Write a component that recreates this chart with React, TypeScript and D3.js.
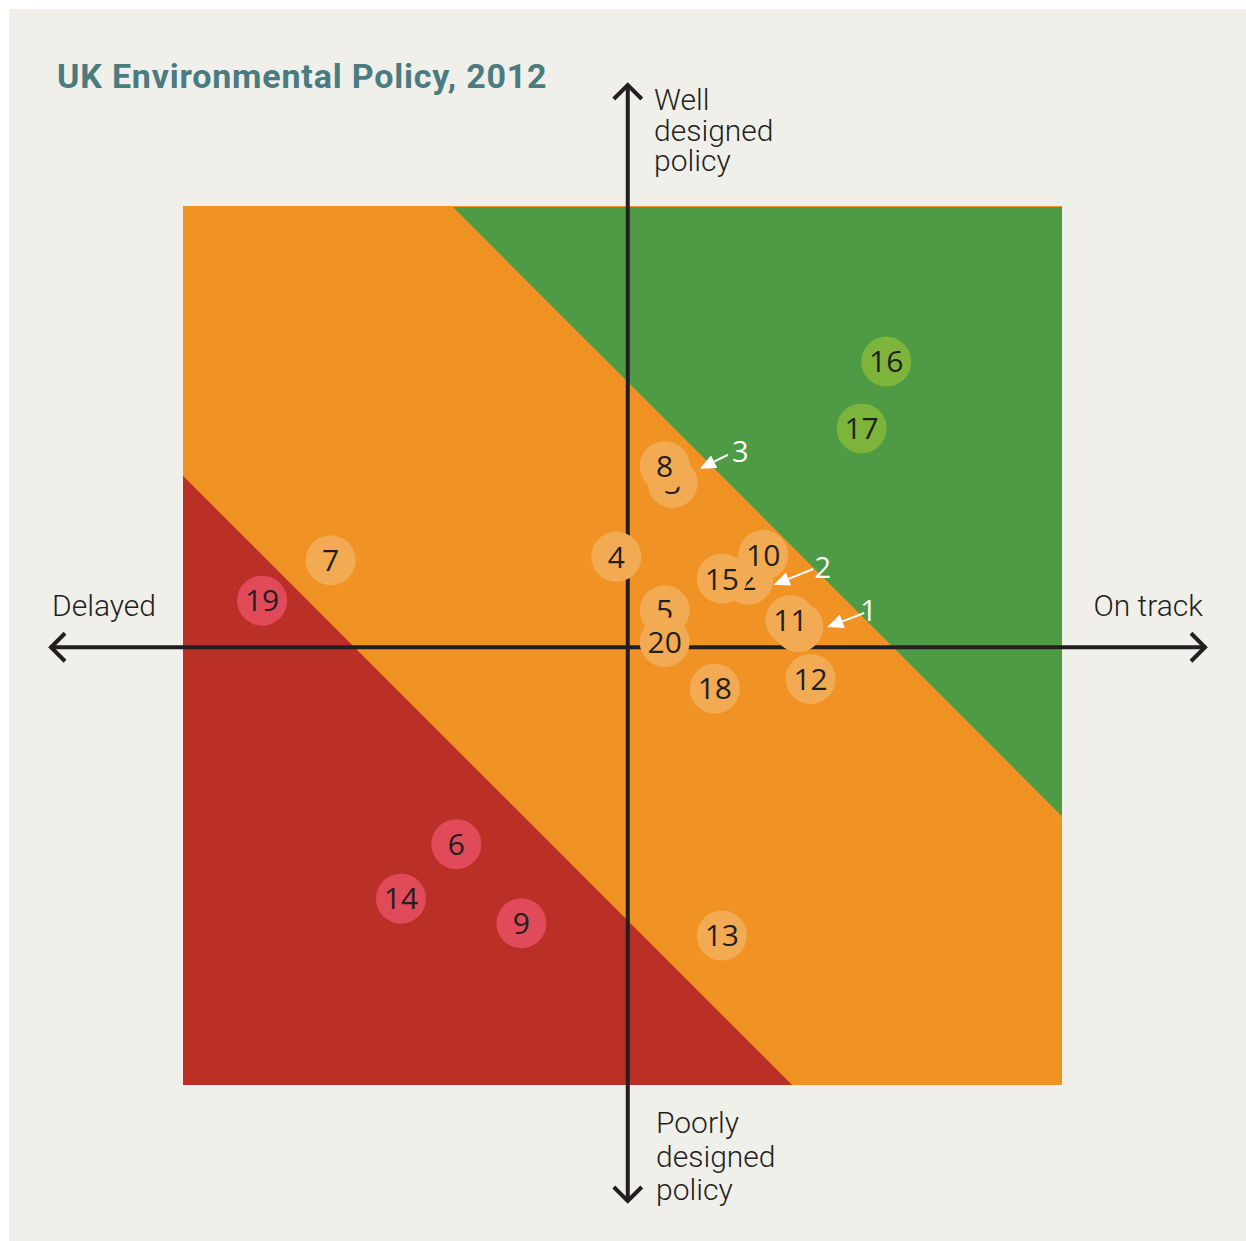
import React from 'react';
import * as d3 from 'd3';

// policy positions on the design / delivery grid (0..100 in both directions)
const policyIds = [1, 2, 3, 4, 5, 6, 7, 8, 9, 10, 11, 12, 13, 14, 15, 16, 17, 18, 19, 20];
const delivery = [70.0, 64.3, 55.7, 49.3, 54.8, 31.1, 16.8, 54.8, 38.5, 66.0, 69.1, 71.4, 61.3, 24.8, 61.3, 80.0, 77.2, 60.5, 9.0, 54.8];
const design = [52.1, 57.5, 68.5, 60.1, 54.0, 27.4, 59.7, 70.4, 18.4, 60.3, 52.9, 46.2, 17.0, 21.2, 57.6, 82.3, 74.7, 45.1, 55.1, 50.4];
const rating = ['amber', 'amber', 'amber', 'amber', 'amber', 'red', 'amber', 'amber', 'red', 'amber', 'amber', 'amber', 'amber', 'red', 'amber', 'green', 'green', 'amber', 'red', 'amber'];

// hidden points get a callout with an arrow
const calloutIds = [3, 2, 1];
const calloutLabel = [[63.4, 72.1], [72.8, 58.9], [78.0, 54.0]];
const calloutTail = [[62.0, 71.7], [71.7, 58.7], [77.5, 53.7]];
const calloutTip = [[58.8, 70.1], [67.2, 56.9], [73.3, 52.1]];

// band thresholds on delivery + design
const greenFrom = 130.7;
const redTo = 69.3;
const axisCross = [50.6, 49.8];

const bandColor = { green: '#4f9a45', amber: '#f19224', red: '#bb3026' };
const dotColor = { green: '#7db43c', amber: '#f2ab52', red: '#e14b59' };

const W = 1246;
const H = 1241;
const ink = '#231f20';
const labelFont = 'Roboto, sans-serif';

const App = () => {
  const x = d3.scaleLinear().domain([0, 100]).range([183, 1062]);
  const y = d3.scaleLinear().domain([0, 100]).range([1085, 206]);
  const line = d3.line<number[]>().x(d => x(d[0])).y(d => y(d[1]));

  const greenPoly = [[greenFrom - 100, 100], [100, 100], [100, greenFrom - 100]];
  const redPoly = [[0, 0], [0, redTo], [redTo, 0]];

  const ax = x(axisCross[0]);
  const ay = y(axisCross[1]);

  const arrowHead = (tip: number[], tail: number[]) => {
    const tx = x(tip[0]), ty = y(tip[1]);
    const sx = x(tail[0]), sy = y(tail[1]);
    const a = Math.atan2(ty - sy, tx - sx);
    const len = 16, half = 7;
    const bx = tx - len * Math.cos(a), by = ty - len * Math.sin(a);
    const p1 = [bx + half * Math.sin(a), by - half * Math.cos(a)];
    const p2 = [bx - half * Math.sin(a), by + half * Math.cos(a)];
    return { line: [sx, sy, bx, by], tri: `M${tx},${ty}L${p1[0]},${p1[1]}L${p2[0]},${p2[1]}Z` };
  };

  return (
    <svg width={W} height={H} style={{ position: 'absolute', left: 0, top: 0 }}>
      <rect x={0} y={0} width={W} height={H} fill="#ffffff" />
      <rect x={9} y={9} width={W - 9} height={H - 9} fill="#f0efea" />

      <text x={57} y={88} fontFamily={labelFont} fontWeight={700} fontSize={34} letterSpacing={0.8} fill="#4a7b7f">
        UK Environmental Policy, 2012
      </text>

      {/* bands */}
      <rect x={x(0)} y={y(100)} width={x(100) - x(0)} height={y(0) - y(100)} fill={bandColor.amber} />
      <path d={line(greenPoly) + 'Z'} fill={bandColor.green} transform="translate(0,1)" />
      <path d={line(redPoly) + 'Z'} fill={bandColor.red} />

      {/* axes */}
      <g stroke={ink} strokeWidth={4} fill="none" strokeLinecap="butt">
        <line x1={51} x2={1205} y1={ay} y2={ay} />
        <line x1={ax} x2={ax} y1={86} y2={1201} />
        <path d={`M${65},${ay - 14}L${51},${ay}L${65},${ay + 14}`} />
        <path d={`M${1191},${ay - 14}L${1205},${ay}L${1191},${ay + 14}`} />
        <path d={`M${ax - 14},${99}L${ax},${85}L${ax + 14},${99}`} />
        <path d={`M${ax - 14},${1187}L${ax},${1201}L${ax + 14},${1187}`} />
      </g>

      <g fontFamily={labelFont} fontWeight={300} fontSize={30} fill={ink}>
        <text x={654} y={110}>Well</text>
        <text x={654} y={141}>designed</text>
        <text x={654} y={171}>policy</text>
        <text x={656} y={1133}>Poorly</text>
        <text x={656} y={1167}>designed</text>
        <text x={656} y={1200}>policy</text>
        <text x={52} y={616}>Delayed</text>
        <text x={1203} y={616} textAnchor="end">On track</text>
      </g>

      {/* policies */}
      {policyIds.map((id, i) => (
        <g key={id} transform={`translate(${x(delivery[i])},${y(design[i])})`}>
          <circle r={25} fill={dotColor[rating[i]]} />
          <text textAnchor="middle" dy="0.36em" fontFamily="'Open Sans', sans-serif" fontSize={30} fill={ink}>
            {id}
          </text>
        </g>
      ))}

      {/* callouts */}
      {calloutIds.map((id, i) => {
        const h = arrowHead(calloutTip[i], calloutTail[i]);
        return (
          <g key={id}>
            <line x1={h.line[0]} y1={h.line[1]} x2={h.line[2]} y2={h.line[3]} stroke="#ffffff" strokeWidth={2} />
            <path d={h.tri} fill="#ffffff" />
            <text x={x(calloutLabel[i][0])} y={y(calloutLabel[i][1])} dy="0.36em" textAnchor="middle"
              fontFamily="'Open Sans', sans-serif" fontSize={29} fill="#ffffff">
              {id}
            </text>
          </g>
        );
      })}
    </svg>
  );
};

export default App;
